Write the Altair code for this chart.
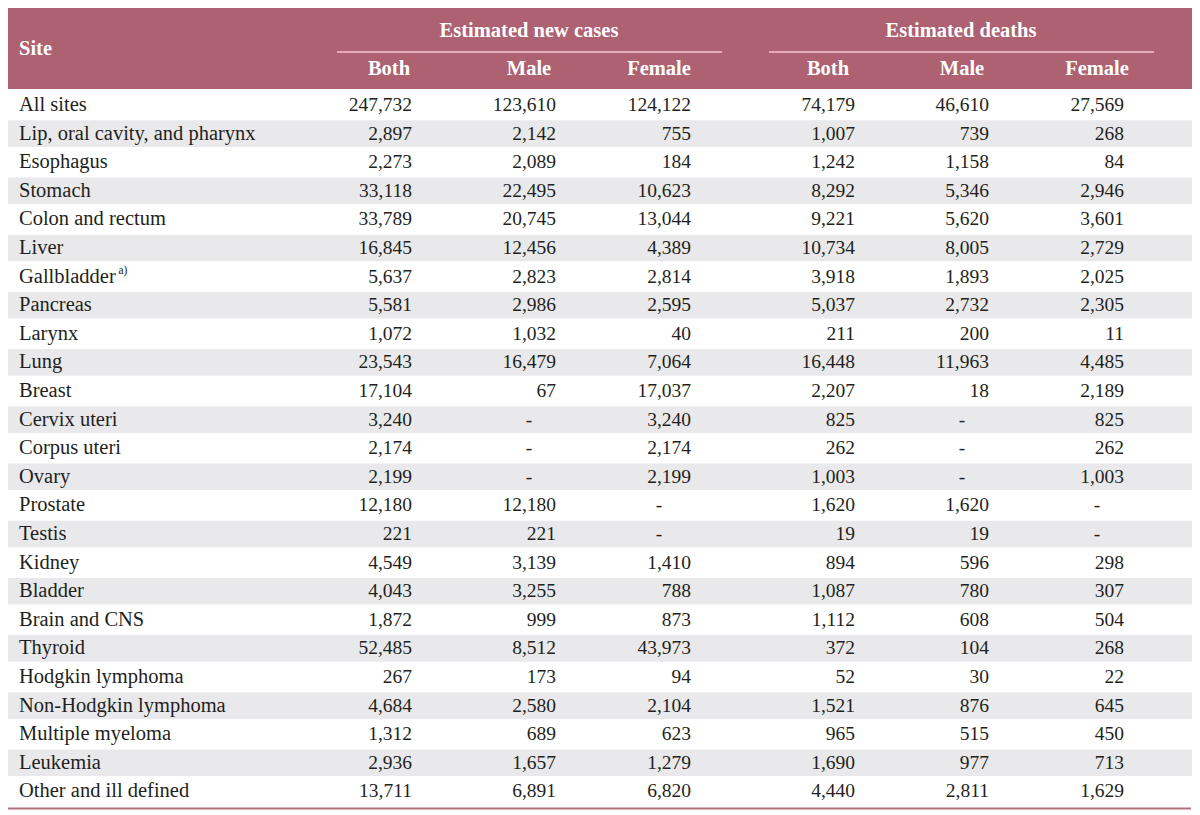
import altair as alt
import pandas as pd

# ---------------- data ----------------
sites = ["All sites", "Lip, oral cavity, and pharynx", "Esophagus", "Stomach",
         "Colon and rectum", "Liver", "Gallbladder", "Pancreas", "Larynx", "Lung",
         "Breast", "Cervix uteri", "Corpus uteri", "Ovary", "Prostate", "Testis",
         "Kidney", "Bladder", "Brain and CNS", "Thyroid", "Hodgkin lymphoma",
         "Non-Hodgkin lymphoma", "Multiple myeloma", "Leukemia", "Other and ill defined"]
cases_both = [247732, 2897, 2273, 33118, 33789, 16845, 5637, 5581, 1072, 23543, 17104,
              3240, 2174, 2199, 12180, 221, 4549, 4043, 1872, 52485, 267, 4684, 1312, 2936, 13711]
cases_male = [123610, 2142, 2089, 22495, 20745, 12456, 2823, 2986, 1032, 16479, 67,
              None, None, None, 12180, 221, 3139, 3255, 999, 8512, 173, 2580, 689, 1657, 6891]
cases_female = [124122, 755, 184, 10623, 13044, 4389, 2814, 2595, 40, 7064, 17037,
                3240, 2174, 2199, None, None, 1410, 788, 873, 43973, 94, 2104, 623, 1279, 6820]
deaths_both = [74179, 1007, 1242, 8292, 9221, 10734, 3918, 5037, 211, 16448, 2207,
               825, 262, 1003, 1620, 19, 894, 1087, 1112, 372, 52, 1521, 965, 1690, 4440]
deaths_male = [46610, 739, 1158, 5346, 5620, 8005, 1893, 2732, 200, 11963, 18,
               None, None, None, 1620, 19, 596, 780, 608, 104, 30, 876, 515, 977, 2811]
deaths_female = [27569, 268, 84, 2946, 3601, 2729, 2025, 2305, 11, 4485, 2189,
                 825, 262, 1003, None, None, 298, 307, 504, 268, 22, 645, 450, 713, 1629]
group_titles = ["Estimated new cases", "Estimated deaths"]
sub_titles = ["Both", "Male", "Female", "Both", "Male", "Female"]
footnote_site = "Gallbladder"
footnote_mark = "a)"

# ---------------- layout (table geometry in reference pixels) ----------------
W, H = 1184, 807
xs = alt.Scale(domain=[8, 8 + W], range=[0, W], nice=False, zero=False)
ys = alt.Scale(domain=[8, 8 + H], range=[0, H], nice=False, zero=False)

HEADER_COL = "#ad6171"
LINE_COL = "#f2c6cf"
STRIPE_COL = "#e9e9eb"
TEXT_COL = "#231f20"
FONT = "Liberation Serif"

row_y0, row_step = 105.0, 28.6
label_x = 19
num_right = [412, 556, 691, 855, 989, 1124]
col_center = [389, 529, 659, 828, 962, 1097]
group_center = [529, 961]
group_rule = [(337, 722), (769, 1154)]

def X(f="x"):
    return alt.X(f"{f}:Q", scale=xs, axis=None)

def Y(f="y"):
    return alt.Y(f"{f}:Q", scale=ys, axis=None)

# header background
hdr = pd.DataFrame({"x": [8], "x2": [1192], "y": [8], "y2": [89]})
header_rect = alt.Chart(hdr).mark_rect(color=HEADER_COL).encode(
    x=X(), x2="x2:Q", y=Y(), y2="y2:Q")

# stripes
stripe_rows = [i for i in range(len(sites)) if i % 2 == 1]
stripes = pd.DataFrame({
    "x": [8] * len(stripe_rows), "x2": [1192] * len(stripe_rows),
    "y": [row_y0 + row_step * i - 13.3 for i in stripe_rows],
    "y2": [row_y0 + row_step * i + 13.3 for i in stripe_rows]})
stripe_rect = alt.Chart(stripes).mark_rect(color=STRIPE_COL).encode(
    x=X(), x2="x2:Q", y=Y(), y2="y2:Q")

# header rules
hr = pd.DataFrame({"x": [a for a, b in group_rule], "x2": [b for a, b in group_rule],
                   "y": [52, 52]})
header_rules = alt.Chart(hr).mark_rule(color=LINE_COL, strokeWidth=1.6).encode(
    x=X(), x2="x2:Q", y=Y())

# bottom rule
br = pd.DataFrame({"x": [8], "x2": [1191], "y": [808.5]})
bottom_rule = alt.Chart(br).mark_rule(color="#b2707e", strokeWidth=2.2).encode(
    x=X(), x2="x2:Q", y=Y())

# header texts
ht = pd.DataFrame({"x": [label_x], "y": [49], "t": ["Site"]})
site_head = alt.Chart(ht).mark_text(font=FONT, fontSize=20.5, fontWeight="bold",
                                    color="white", align="left", baseline="middle").encode(
    x=X(), y=Y(), text="t:N")
gt = pd.DataFrame({"x": group_center, "y": [31, 31], "t": group_titles})
group_head = alt.Chart(gt).mark_text(font=FONT, fontSize=20.5, fontWeight="bold",
                                     color="white", align="center", baseline="middle").encode(
    x=X(), y=Y(), text="t:N")
st = pd.DataFrame({"x": col_center, "y": [69] * 6, "t": sub_titles})
sub_head = alt.Chart(st).mark_text(font=FONT, fontSize=20.5, fontWeight="bold",
                                   color="white", align="center", baseline="middle").encode(
    x=X(), y=Y(), text="t:N")

# site labels
lab = pd.DataFrame({"x": [label_x] * len(sites),
                    "y": [row_y0 + row_step * i for i in range(len(sites))],
                    "t": sites})
labels = alt.Chart(lab).mark_text(font=FONT, fontSize=20.5, color=TEXT_COL,
                                  align="left", baseline="middle").encode(
    x=X(), y=Y(), text="t:N")

# footnote superscript
fi = sites.index(footnote_site)
fn = pd.DataFrame({"x": [118.5], "y": [row_y0 + row_step * fi - 6], "t": [footnote_mark]})
foot = alt.Chart(fn).mark_text(font=FONT, fontSize=11.5, color=TEXT_COL,
                               align="left", baseline="middle").encode(
    x=X(), y=Y(), text="t:N")

# numbers
cols = [cases_both, cases_male, cases_female, deaths_both, deaths_male, deaths_female]
nums, dashes = [], []
for c, vals in enumerate(cols):
    for i, v in enumerate(vals):
        y = row_y0 + row_step * i
        if v is None:
            dashes.append({"x": col_center[c], "y": y, "t": "-"})
        else:
            nums.append({"x": num_right[c], "y": y, "t": f"{v:,}"})
numbers = alt.Chart(pd.DataFrame(nums)).mark_text(font=FONT, fontSize=19.5, color=TEXT_COL,
                                                  align="right", baseline="middle").encode(
    x=X(), y=Y(), text="t:N")
dash_marks = alt.Chart(pd.DataFrame(dashes)).mark_text(font=FONT, fontSize=19.5, color=TEXT_COL,
                                                       align="center", baseline="middle").encode(
    x=X(), y=Y(), text="t:N")

chart = alt.layer(header_rect, stripe_rect, header_rules, bottom_rule, site_head, group_head,
                  sub_head, labels, foot, numbers, dash_marks).properties(
    width=W, height=H, padding=0, autosize=alt.AutoSizeParams(type="none"),
    background="white"
).configure_view(stroke=None)

chart.save("out.html", embed_options={"renderer": "svg", "actions": False})
